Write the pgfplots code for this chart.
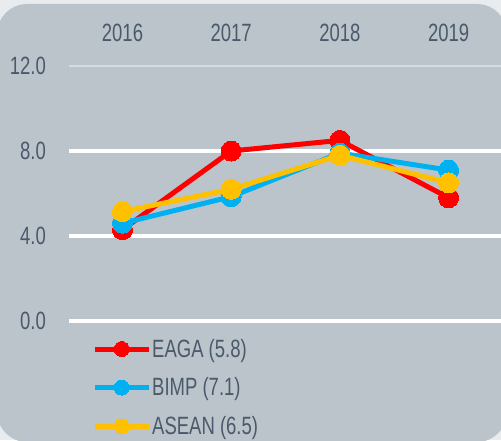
\documentclass[border=0pt]{standalone}
\usepackage{fontspec}
\setmainfont{Liberation Sans}[FakeStretch=0.74]
\usepackage{pgfplots}
\pgfplotsset{compat=1.18}
\definecolor{bg}{HTML}{BCC4CB}
\definecolor{outer}{HTML}{E8ECEF}
\definecolor{txt}{HTML}{4A5A6B}
\definecolor{cred}{HTML}{FF0000}
\definecolor{cblue}{HTML}{00B0F0}
\definecolor{cyel}{HTML}{FFC000}
\definecolor{grid12}{HTML}{D7DBDE}
\begin{document}
\begin{tikzpicture}[x=1pt,y=1pt]
\useasboundingbox (0,0) rectangle (501,440);
\fill[outer] (0,0) rectangle (501,440);
\fill[bg, rounded corners=30pt] (-3,-2) rectangle (507,436);
\begin{axis}[
  at={(69pt,119pt)}, anchor=south west,
  scale only axis, width=432pt, height=255pt,
  xmin=-0.492, xmax=3.482, ymin=0, ymax=12,
  axis line style={draw=none},
  major tick length=0pt,
  xtick={0,1,2,3}, xticklabels={2016,2017,2018,2019},
  xticklabel pos=upper,
  ytick={0,4,8}, yticklabels={0.0,4.0,8.0},
  extra y ticks={12}, extra y tick labels={12.0},
  ymajorgrids, grid style={white, line width=4pt},
  extra y tick style={grid style={grid12, line width=2pt}},
  tick label style={text=txt, font=\fontsize{25}{30}\selectfont},
  yticklabel style={anchor=east, inner sep=0pt, xshift=-23pt},
  xticklabel style={anchor=south, inner sep=0pt, yshift=24pt},
  clip=false,
  legend cell align=left,
  legend style={draw=none, fill=none, at={(0,0)}, anchor=north west,
    xshift=23pt, yshift=-17pt, row sep=17pt, text=txt,
    font=\fontsize{25}{30}\selectfont, inner sep=0pt,
    nodes={inner sep=1pt}},
  legend image code/.code={\draw[mark repeat=2, mark phase=2, #1, mark size=7.5pt] plot coordinates {(0pt,0pt) (27pt,0pt) (54pt,0pt)};},
  every axis plot/.append style={line width=5pt, mark=*, mark size=10pt, line join=round},
]
\addplot[cred, mark options={fill=cred, draw=cred, line width=0pt}] coordinates {(0,4.3) (1,8.0) (2,8.5) (3,5.8)};
\addlegendentry{EAGA (5.8)}
\addplot[cblue, mark options={fill=cblue, draw=cblue, line width=0pt}] coordinates {(0,4.6) (1,5.85) (2,7.9) (3,7.1)};
\addlegendentry{BIMP (7.1)}
\addplot[cyel, mark options={fill=cyel, draw=cyel, line width=0pt}] coordinates {(0,5.15) (1,6.2) (2,7.8) (3,6.5)};
\addlegendentry{ASEAN (6.5)}
\end{axis}
\end{tikzpicture}
\end{document}
